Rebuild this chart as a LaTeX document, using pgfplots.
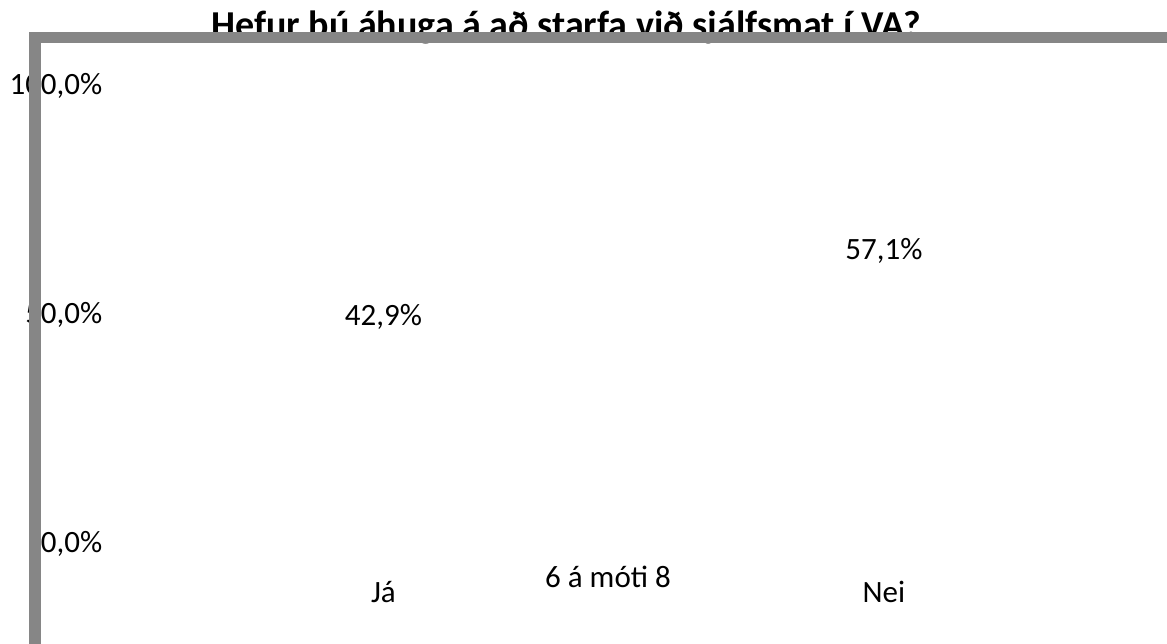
\documentclass[border=0pt]{standalone}
\usepackage{fontspec}
\setmainfont{Carlito}
\usepackage{pgfplots}
\pgfplotsset{compat=1.18}
\definecolor{framegray}{RGB}{134,134,134}
\newcommand\lab{\fontsize{31bp}{37bp}\selectfont}
\begin{document}
\begin{tikzpicture}[x=1bp,y=1bp]
\useasboundingbox (-41,-99.5) rectangle (1126,544.5);
\begin{axis}[
  at={(0,0)}, anchor=south west,
  scale only axis, width=1126bp, height=458bp,
  xmin=-0.684, xmax=1.5654, ymin=0, ymax=100,
  axis line style={draw=none},
  major tick length=0pt,
  tick style={draw=none},
  xtick={0,1}, xticklabels={Já,Nei},
  ytick={0,50,100}, yticklabels={{0,0\%},{50,0\%},{100,0\%}},
  xticklabel style={font=\lab, anchor=base, inner sep=0pt, yshift=-58.5bp},
  yticklabel style={font=\lab, anchor=base east, inner sep=0pt, xshift=61.5bp, yshift=-8.5bp},
  ybar, bar width=200bp,
  nodes near coords, point meta=explicit symbolic,
  every node near coord/.append style={font=\lab, anchor=base, inner sep=0pt, yshift=23bp},
  clip=false,
]
\addplot[draw=none, fill=none] coordinates {(0,42.9) [42,9\%] (1,57.1) [57,1\%]};
\end{axis}
\node[anchor=base, font=\bfseries\fontsize{38bp}{46bp}\selectfont, inner sep=0] at (525, 506.5) {Hefur þú áhuga á að starfa við sjálfsmat í VA?};
\node[anchor=base, font=\lab, inner sep=0] at (567, -43.5) {6 á móti 8};
\draw[framegray, line width=11.5bp] (-6,-105) -- (-6,507) -- (1131,507);
\end{tikzpicture}
\end{document}
